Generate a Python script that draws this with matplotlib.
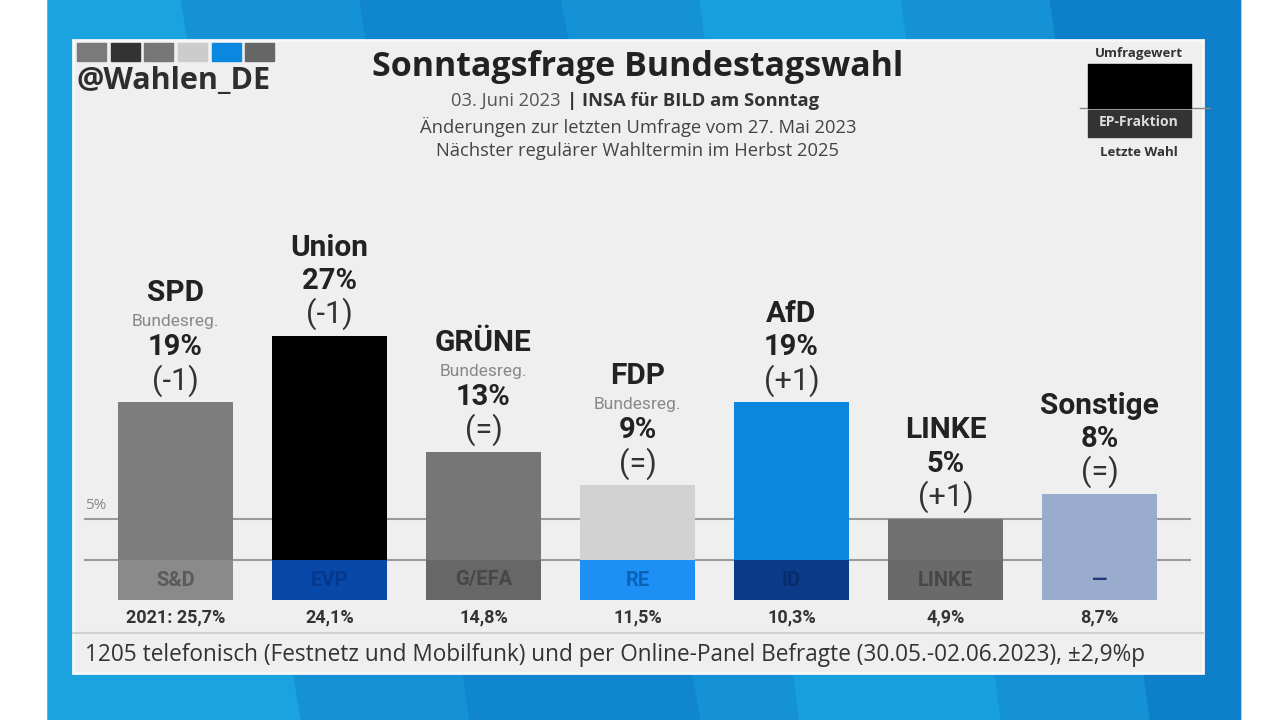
import matplotlib.pyplot as plt
from matplotlib.patches import Rectangle, Polygon

# data
parties = ['SPD', 'Union', 'GRÜNE', 'FDP', 'AfD', 'LINKE', 'Sonstige']
values = [19, 27, 13, 9, 19, 5, 8]
changes = ['(-1)', '(-1)', '(=)', '(=)', '(+1)', '(+1)', '(=)']
in_govt = [True, False, True, True, False, False, False]
ep_groups = ['S&D', 'EVP', 'G/EFA', 'RE', 'ID', 'LINKE', '—']
last_vote = ['2021: 25,7%', '24,1%', '14,8%', '11,5%', '10,3%', '4,9%', '8,7%']

bar_colors = ['#7d7d7d', '#000000', '#767676', '#d2d2d2', '#0b88de', '#707070', '#9aaccd']
ep_colors = ['#8a8a8a', '#0848a8', '#676767', '#1e8ff5', '#0a3a88', '#6a6a6a', '#9aaccd']
ep_text = ['#5a5a5a', '#06388e', '#474747', '#0b63b8', '#072c6c', '#474747', '#1c3a7a']

plt.rcParams['font.family'] = ['Roboto', 'DejaVu Sans']
osans = ['Open Sans', 'DejaVu Sans']

fig = plt.figure(figsize=(12.8, 7.2), dpi=100)

# background in pixel coordinates
bg = fig.add_axes([0, 0, 1, 1], zorder=0)
bg.set_xlim(0, 1280)
bg.set_ylim(720, 0)
bg.axis('off')
bg.add_patch(Rectangle((48, 0), 1192, 720, color='#1592d6'))
bg.add_patch(Polygon([(48, 0), (180, 0), (300, 720), (48, 720)], color='#1aa3df'))
bg.add_patch(Polygon([(360, 0), (560, 0), (700, 720), (470, 720)], color='#0f86cf'))
bg.add_patch(Polygon([(700, 0), (900, 0), (1000, 720), (800, 720)], color='#18a0de'))
bg.add_patch(Polygon([(1050, 0), (1240, 0), (1240, 720), (1150, 720)], color='#0d7fcb'))
bg.add_patch(Rectangle((73, 40), 1130, 633, color='#efefef', ec='#f8f8f8', lw=2))

# header swatches
sw_x = [77, 111, 144, 178, 212, 245]
sw_c = ['#7a7a7a', '#333333', '#777777', '#cccccc', '#0a87de', '#666666']
for x, c in zip(sw_x, sw_c):
    bg.add_patch(Rectangle((x, 43), 29, 18, color=c))
bg.text(77, 81, '@Wahlen_DE', fontsize=22, fontweight='bold', color='#2e2e2e', va='center',
        family=osans)

bg.text(638, 67, 'Sonntagsfrage Bundestagswahl', fontsize=24.5, fontweight='bold',
        color='#222222', ha='center', va='center', family=osans)
bg.text(561, 101, '03. Juni 2023', fontsize=13.2, color='#555555', ha='right', va='center',
        family=osans)
bg.text(567, 101, '| INSA für BILD am Sonntag', fontsize=13.2, fontweight='bold',
        color='#333333', ha='left', va='center', family=osans)
bg.text(638, 127, 'Änderungen zur letzten Umfrage vom 27. Mai 2023', fontsize=13.2,
        color='#444444', ha='center', va='center', family=osans)
bg.text(638, 151, 'Nächster regulärer Wahltermin im Herbst 2025', fontsize=13.2,
        color='#444444', ha='center', va='center', family=osans)

# legend top right
bg.plot([1080, 1210], [108, 108], color='#888888', lw=1, zorder=1)
bg.text(1139, 53, 'Umfragewert', fontsize=9.5, fontweight='bold', color='#333333',
        ha='center', va='center', family=osans)
bg.add_patch(Rectangle((1088, 64), 103, 44, color='#000000', zorder=2))
bg.add_patch(Rectangle((1088, 110), 103, 27, color='#333333', zorder=2))
bg.text(1139, 122, 'EP-Fraktion', fontsize=10, fontweight='bold', color='#dddddd',
        ha='center', va='center', family=osans, zorder=3)
bg.text(1139, 152, 'Letzte Wahl', fontsize=9.5, fontweight='bold', color='#333333',
        ha='center', va='center', family=osans)

# footer
bg.plot([73, 1203], [633, 633], color='#d0d0d0', lw=1.5)
bg.text(85, 655, '1205 telefonisch (Festnetz und Mobilfunk) und per Online-Panel Befragte (30.05.-02.06.2023), ±2,9%p',
        fontsize=16.3, color='#333333', va='center', family=osans)

# bar chart
ax = fig.add_axes([73 / 1280, 80 / 720, 1130 / 1280, 440 / 720], zorder=1)
ax.patch.set_alpha(0)
ax.axis('off')
px = 8.3
ax.set_xlim((73 - 175.5) / 154, (1203 - 175.5) / 154)
ax.set_ylim(-80 / px, 360 / px)

x = range(len(parties))
ax.axhline(0, xmin=12 / 1130, xmax=1117 / 1130, color='#9a9a9a', lw=1.5, zorder=1)
ax.axhline(5, xmin=12 / 1130, xmax=1117 / 1130, color='#9a9a9a', lw=1.5, zorder=1)
ax.annotate('5%', (0, 5), xytext=(-90, 13), textcoords='offset pixels', fontsize=11,
            color='#888888', va='center', family=osans)

ax.bar(x, values, width=0.75, color=bar_colors, zorder=2)
ax.bar(x, [-40 / px] * 7, bottom=-0.3 / px, width=0.75, color=ep_colors, zorder=2)

for i in x:
    top = values[i]
    ax.annotate(changes[i], (i, top), xytext=(0, 22), textcoords='offset pixels',
                ha='center', va='center', fontsize=22, color='#333333')
    ax.annotate(f'{values[i]}%', (i, top), xytext=(0, 55), textcoords='offset pixels',
                ha='center', va='center', fontsize=21, fontweight='bold', color='#222222')
    if in_govt[i]:
        ax.annotate('Bundesreg.', (i, top), xytext=(0, 81), textcoords='offset pixels',
                    ha='center', va='center', fontsize=12.5, color='#888888')
        name_off = 109
    else:
        name_off = 88
    ax.annotate(parties[i], (i, top), xytext=(0, name_off), textcoords='offset pixels',
                ha='center', va='center', fontsize=21.5, fontweight='bold', color='#222222')
    ax.annotate(ep_groups[i], (i, 0), xytext=(0, -20), textcoords='offset pixels',
                ha='center', va='center', fontsize=14.5, fontweight='bold', color=ep_text[i])
    ax.annotate(last_vote[i], (i, 0), xytext=(0, -57), textcoords='offset pixels',
                ha='center', va='center', fontsize=13, fontweight='bold', color='#333333')

fig.savefig('out.png', dpi=100)
